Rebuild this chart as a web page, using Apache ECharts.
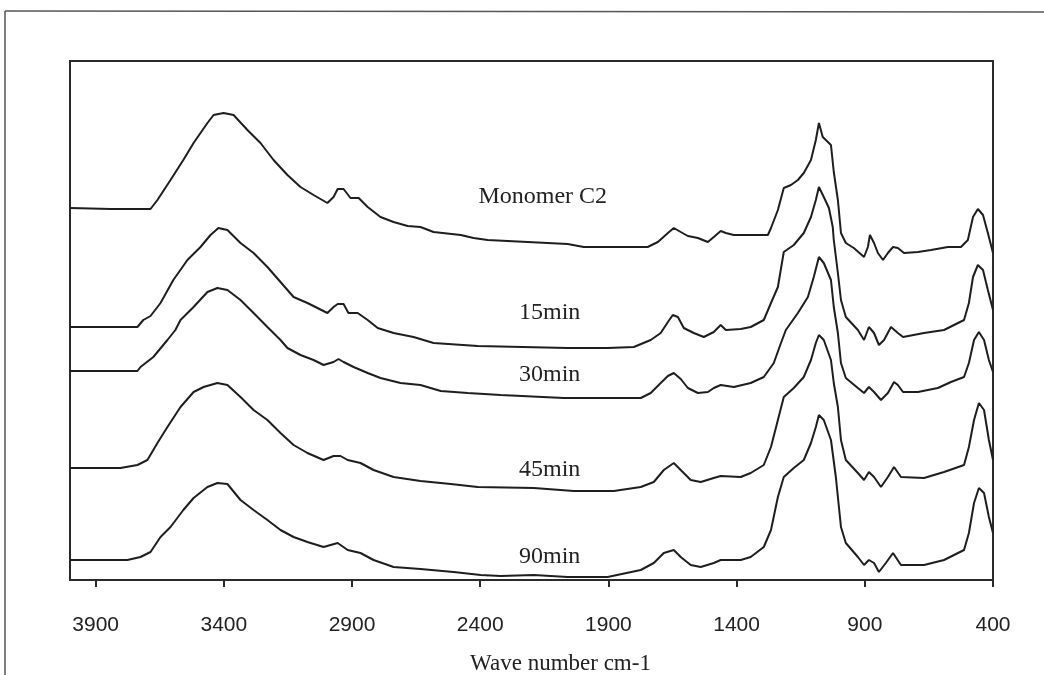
<!DOCTYPE html>
<html>
<head>
<meta charset="utf-8">
<script src="https://cdn.jsdelivr.net/npm/echarts@6/dist/echarts.min.js"></script>
<style>
  html, body { margin: 0; padding: 0; background: #fff; }
  #chart { width: 1044px; height: 675px; }
</style>
</head>
<body>
<div id="chart"></div>
<script>
// x: wave number (cm-1), y: offset intensity (arbitrary units)
const wavenumberTicks = [3900, 3400, 2900, 2400, 1900, 1400, 900, 400];

const monomerC2 = [
  [4000,372],[3840,371],[3686,371],[3659,380],[3608,400],[3558,420],[3518,437],[3464,457],[3440,465],
  [3401,467],[3362,465],[3308,450],[3257,437],[3206,420],[3152,405],[3101,393],[3050,385],[2996,377],
  [2972,383],[2956,391],[2933,391],[2906,382],[2874,382],[2839,373],[2789,363],[2738,358],[2683,354],
  [2633,353],[2582,348],[2476,345],[2426,342],[2371,340],[2137,337],[2059,336],[1996,333],[1747,333],
  [1707,338],[1668,347],[1645,352],[1618,348],[1590,344],[1551,342],[1512,338],[1489,343],[1462,349],
  [1442,347],[1411,345],[1278,345],[1266,352],[1239,370],[1216,392],[1188,395],[1161,400],[1138,407],
  [1110,420],[1091,440],[1079,457],[1064,443],[1044,438],[1032,435],[1021,408],[1005,380],[993,347],
  [974,337],[943,332],[903,323],[888,333],[880,345],[864,337],[849,327],[829,320],[810,327],[790,333],
  [771,332],[747,327],[693,328],[642,330],[576,333],[525,333],[498,340],[478,363],[459,371],[439,365],
  [420,347],[400,327]
];

const min15 = [
  [4000,253],[3737,253],[3714,260],[3686,264],[3647,277],[3597,300],[3542,320],[3491,333],[3452,345],
  [3421,352],[3386,350],[3335,337],[3284,327],[3230,313],[3179,298],[3128,283],[3074,277],[2996,267],
  [2972,273],[2956,276],[2933,276],[2914,267],[2878,267],[2839,260],[2800,252],[2738,247],[2660,243],
  [2582,237],[2410,234],[2059,232],[1903,232],[1801,233],[1735,240],[1696,247],[1668,258],[1649,265],
  [1629,263],[1606,252],[1567,247],[1528,243],[1489,248],[1462,255],[1442,250],[1384,251],[1345,253],
  [1294,260],[1266,277],[1239,293],[1216,328],[1177,335],[1138,347],[1110,363],[1091,380],[1079,393],
  [1060,383],[1040,372],[1025,353],[1021,340],[1005,307],[993,280],[974,263],[927,250],[903,240],
  [884,253],[864,247],[845,235],[825,240],[798,253],[771,247],[751,243],[669,247],[591,250],[513,260],
  [494,277],[478,303],[459,315],[439,310],[420,290],[400,270]
];

const min30 = [
  [4000,209],[3737,209],[3725,213],[3675,223],[3620,240],[3589,250],[3569,260],[3518,273],[3464,288],
  [3425,292],[3386,290],[3335,280],[3284,267],[3230,253],[3179,240],[3152,232],[3101,225],[3050,220],
  [3011,215],[2972,218],[2953,221],[2933,218],[2894,213],[2839,207],[2789,202],[2711,197],[2633,195],
  [2554,189],[2449,187],[2320,185],[2074,182],[1774,182],[1735,187],[1696,197],[1668,204],[1645,207],
  [1618,201],[1590,192],[1551,187],[1512,188],[1489,192],[1462,195],[1411,193],[1345,197],[1294,203],
  [1255,217],[1227,237],[1208,250],[1161,267],[1122,283],[1099,303],[1079,323],[1060,317],[1032,300],
  [1021,273],[1005,247],[993,217],[974,202],[927,192],[903,187],[884,193],[864,188],[837,180],[810,187],
  [786,198],[771,195],[751,188],[693,188],[615,192],[564,198],[513,203],[494,217],[474,240],[455,248],
  [435,240],[416,220],[400,208]
];

const min45 = [
  [4000,112],[3803,112],[3737,115],[3698,120],[3659,137],[3620,153],[3569,173],[3518,188],[3479,193],
  [3425,197],[3386,195],[3335,183],[3284,170],[3230,160],[3179,147],[3128,135],[3074,127],[3011,120],
  [2972,124],[2945,124],[2917,120],[2867,117],[2816,110],[2738,103],[2633,99],[2515,96],[2410,93],
  [2191,92],[2035,89],[1879,89],[1774,93],[1723,98],[1684,110],[1645,117],[1618,110],[1579,100],
  [1540,98],[1489,102],[1462,104],[1384,103],[1345,107],[1294,115],[1266,133],[1239,160],[1216,183],
  [1177,192],[1138,203],[1110,220],[1091,237],[1079,245],[1060,240],[1032,220],[1021,197],[1005,173],
  [993,140],[974,120],[927,107],[903,100],[884,108],[864,103],[837,93],[810,103],[786,113],[759,103],
  [669,102],[591,108],[513,115],[494,133],[474,160],[455,177],[435,170],[416,140],[400,120]
];

const min90 = [
  [4000,20],[3776,20],[3725,23],[3686,28],[3647,43],[3608,53],[3558,70],[3518,82],[3464,93],[3425,97],
  [3386,96],[3335,80],[3284,70],[3230,60],[3179,50],[3128,43],[3074,38],[3011,33],[2956,37],[2917,30],
  [2867,27],[2816,20],[2738,13],[2633,11],[2504,8],[2398,5],[2320,4],[2191,5],[2059,3],[1903,3],
  [1774,10],[1723,17],[1684,27],[1645,30],[1618,23],[1579,15],[1540,13],[1489,17],[1462,20],[1384,20],
  [1345,23],[1294,33],[1266,50],[1239,83],[1216,103],[1177,112],[1138,120],[1110,137],[1091,153],
  [1079,165],[1060,160],[1032,140],[1013,103],[993,53],[974,37],[927,23],[903,15],[884,20],[864,17],
  [845,8],[818,17],[790,27],[759,15],[669,15],[591,20],[513,30],[494,47],[474,77],[455,92],[435,87],
  [416,63],[400,47]
];

const seriesNames = ['Monomer C2', '15min', '30min', '45min', '90min'];
const seriesData = [monomerC2, min15, min30, min45, min90];
// annotation anchor for each trace label [wave number, intensity]
const labelWavenumber = [2156, 2129, 2129, 2129, 2129];
const labelIntensity = [383, 267, 205, 110, 23];

const lineColor = '#1e1e1e';
const chart = echarts.init(document.getElementById('chart'), null, { renderer: 'canvas' });

const series = seriesNames.map((name, i) => ({
  name: name,
  type: 'line',
  data: seriesData[i],
  showSymbol: false,
  symbol: 'none',
  lineStyle: { color: lineColor, width: 2 },
  silent: true,
  markPoint: {
    symbol: 'circle',
    symbolSize: 0,
    silent: true,
    data: [{
      coord: [labelWavenumber[i], labelIntensity[i]],
      label: {
        show: true,
        formatter: name,
        position: 'inside',
        fontFamily: '"Liberation Serif", "DejaVu Serif", serif',
        fontSize: 24,
        color: '#222'
      }
    }]
  }
}));

chart.setOption({
  animation: false,
  backgroundColor: '#fff',
  grid: {
    left: 70, right: 51, top: 61, bottom: 95,
    outerBoundsMode: 'none',
    containLabel: false,
    show: true, borderColor: '#2a2a2a', borderWidth: 2, backgroundColor: 'transparent'
  },
  xAxis: {
    type: 'value',
    min: 400,
    max: 4000,
    inverse: true,
    name: 'Wave number cm-1',
    nameLocation: 'middle',
    nameGap: 72,
    nameTextStyle: {
      fontFamily: '"Liberation Serif", "DejaVu Serif", serif',
      fontSize: 23,
      color: '#222',
      padding: [0, 0, 0, 58]
    },
    axisLine: { show: true, lineStyle: { color: '#2a2a2a', width: 2 } },
    axisTick: { show: true, length: 7, customValues: wavenumberTicks, lineStyle: { color: '#2a2a2a', width: 2 } },
    axisLabel: {
      customValues: wavenumberTicks,
      formatter: (v) => String(v),
      margin: 35,
      fontFamily: '"Liberation Sans", Arial, sans-serif',
      fontSize: 21,
      color: '#222'
    },
    splitLine: { show: false }
  },
  yAxis: {
    type: 'value',
    min: 0,
    max: 519,
    axisLine: { show: true, lineStyle: { color: '#2a2a2a', width: 2 } },
    axisTick: { show: false },
    axisLabel: { show: false },
    splitLine: { show: false }
  },
  graphic: [
    { type: 'line', shape: { x1: 5, y1: 11, x2: 5, y2: 675 }, style: { stroke: '#555', lineWidth: 1.5 }, silent: true },
    { type: 'line', shape: { x1: 5, y1: 11, x2: 1044, y2: 12 }, style: { stroke: '#555', lineWidth: 1.5 }, silent: true }
  ],
  series: series
});
</script>
</body>
</html>
